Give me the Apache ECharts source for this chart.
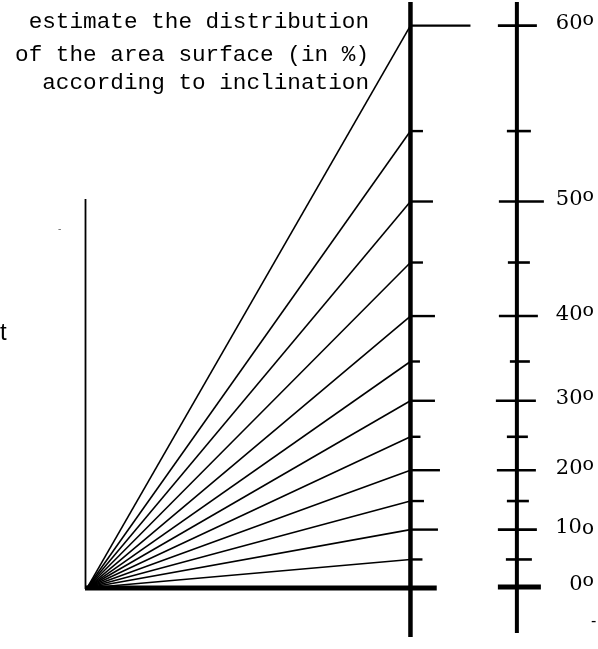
<!DOCTYPE html>
<html>
<head>
<meta charset="utf-8">
<script src="https://cdn.jsdelivr.net/npm/echarts@6/dist/echarts.min.js"></script>
<style>
  html, body { margin: 0; padding: 0; background: #fff; }
  #chart { width: 598px; height: 649px; }
</style>
</head>
<body>
<div id="chart"></div>
<script>
// ---- data ----
// inclination (degrees) of each ray / scale tick
const degrees = [0, 5, 10, 15, 20, 25, 30, 35, 40, 45, 50, 55, 60];
// height reached on the measuring line (slope in %, horizontal run = 100)
const slopePct = [0, 8.5, 17.7, 26.5, 36.0, 46.3, 57.4, 69.5, 83.5, 100.0, 118.8, 140.5, 173.0];
// labelled degrees on the right-hand scale
const labelDegrees = [0, 10, 20, 30, 40, 50, 60];
const labelTexts = ['0', '10', '20', '30', '40', '50', '60'];
const labelSuffixSup = [true, false, true, true, true, true, true];
// title lines
const titleLines = ['estimate the distribution', 'of the area surface (in %)', 'according to inclination'];

// ---- layout / style (not data) ----
const RUN = 100;          // x of measuring line (data units)
const RIGHT_X = 132.8;    // x of degree scale line (data units)
const midTickLen = [0, 12, 27.5, 13.5, 29.5, 10, 24.5, 9.5, 24.5, 12.5, 22.5, 12.5, 60];
const rightTickL = [19, 11, 19, 10, 20, 10, 21, 7, 18, 9, 18, 10, 19];
const rightTickR = [24, 15, 20, 12, 19, 11, 19, 13, 21, 13, 27, 14, 20];

const chart = echarts.init(document.getElementById('chart'), null, { renderer: 'canvas' });

function lineEl(x1, y1, x2, y2, w) {
  return { type: 'line', shape: { x1, y1, x2, y2 }, style: { stroke: '#000', lineWidth: w, lineCap: 'butt' } };
}

const option = {
  backgroundColor: '#fff',
  animation: false,
  grid: { left: 86, top: 2.9, width: 512, height: 645.8, containLabel: false },
  xAxis: { type: 'value', min: 0, max: 157.8, show: false },
  yAxis: { type: 'value', min: -19, max: 180, show: false },
  series: [
    {
      // frame: left axis, baseline, measuring line, degree scale line
      type: 'custom', silent: true, clip: false,
      data: [[0]],
      renderItem: function (params, api) {
        const o = api.coord([0, 0]);
        const lt = api.coord([0, 119.6]);
        const bEnd = api.coord([108.1, 0]);
        const mT = api.coord([RUN, 180.3]);
        const mB = api.coord([RUN, -15.4]);
        const rT = api.coord([RIGHT_X, 180.3]);
        const rB = api.coord([RIGHT_X, -14.2]);
        return {
          type: 'group',
          children: [
            lineEl(o[0] - 0.5, lt[1], o[0] - 0.5, o[1] + 2, 1.8),
            lineEl(o[0] - 1, o[1] + 1, bEnd[0], o[1] + 1, 5),
            lineEl(mT[0], mT[1], mB[0], mB[1], 4.5),
            lineEl(rT[0], rT[1], rB[0], rB[1], 4)
          ]
        };
      }
    },
    {
      // rays from the origin
      type: 'custom', silent: true, clip: false,
      data: slopePct.slice(1).map(v => [RUN, v]),
      renderItem: function (params, api) {
        const o = api.coord([0, 0]);
        const p = api.coord([api.value(0), api.value(1)]);
        return lineEl(o[0] + 1, o[1] + 1, p[0], p[1], 1.6);
      }
    },
    {
      // ticks on the measuring line
      type: 'custom', silent: true, clip: false,
      data: slopePct.map((v, i) => [RUN, v, i]),
      renderItem: function (params, api) {
        const i = api.value(2);
        if (i === 0) return null;
        const p = api.coord([api.value(0), api.value(1)]);
        return lineEl(p[0], p[1], p[0] + midTickLen[i], p[1], 2.4);
      }
    },
    {
      // ticks of the degree scale
      type: 'custom', silent: true, clip: false,
      data: slopePct.map((v, i) => [RIGHT_X, v, i, degrees[i]]),
      renderItem: function (params, api) {
        const i = api.value(2);
        const p = api.coord([api.value(0), api.value(1)]);
        const w = i === 0 ? 5 : 2.6;
        return lineEl(p[0] - rightTickL[i], p[1], p[0] + rightTickR[i], p[1], w);
      }
    },
    {
      // degree labels
      type: 'custom', silent: true, clip: false,
      data: labelDegrees.map((d, k) => [RIGHT_X, slopePct[degrees.indexOf(d)], k]),
      renderItem: function (params, api) {
        const k = api.value(2);
        const p = api.coord([api.value(0), api.value(1)]);
        const txt = labelSuffixSup[k] ? '{n|' + labelTexts[k] + '}{s|o}' : '{n|' + labelTexts[k] + '}{m|o}';
        return {
          type: 'text',
          x: 594, y: p[1] - 2,
          style: {
            text: txt, align: 'right', verticalAlign: 'middle', fill: '#000',
            rich: {
              n: { fontFamily: 'DejaVu Serif', fontSize: 21, lineHeight: 26, verticalAlign: 'middle', fill: '#000' },
              s: { fontFamily: 'DejaVu Serif', fontSize: 19, lineHeight: 12, verticalAlign: 'top', fill: '#000' },
              m: { fontFamily: 'DejaVu Serif', fontSize: 20, lineHeight: 26, verticalAlign: 'middle', fill: '#000', padding: [3, 0, 0, 0] }
            }
          }
        };
      }
    }
  ],
  graphic: [
    { type: 'text', x: 369, y: 21.5, style: { text: titleLines[0], font: '22.7px "Liberation Mono"', fill: '#000', align: 'right', verticalAlign: 'middle' } },
    { type: 'text', x: 369, y: 54.5, style: { text: titleLines[1], font: '22.7px "Liberation Mono"', fill: '#000', align: 'right', verticalAlign: 'middle' } },
    { type: 'text', x: 369, y: 82.5, style: { text: titleLines[2], font: '22.7px "Liberation Mono"', fill: '#000', align: 'right', verticalAlign: 'middle' } },
    { type: 'text', x: 0, y: 333, style: { text: 't', font: '24px "Liberation Sans"', fill: '#000', align: 'left', verticalAlign: 'middle' } },
    { type: 'text', x: 591, y: 622, style: { text: '-', font: '16px "Liberation Sans"', fill: '#000', align: 'left', verticalAlign: 'middle' } },
    { type: 'text', x: 58, y: 229, style: { text: '-', font: '10px "Liberation Sans"', fill: '#666', align: 'left', verticalAlign: 'middle' } }
  ]
};
chart.setOption(option);
</script>
</body>
</html>
